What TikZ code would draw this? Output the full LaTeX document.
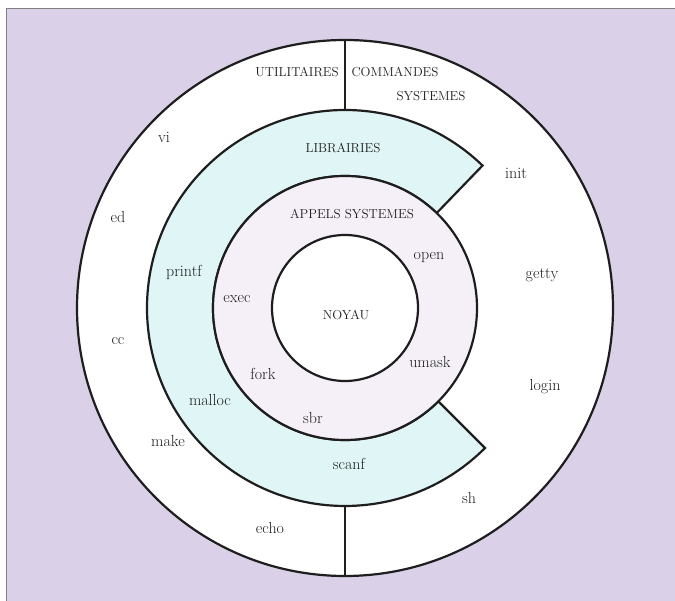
\documentclass[tikz,border=0pt]{standalone}
\usepackage{tikz}
\usetikzlibrary{positioning,calc}
\definecolor{fondlav}{RGB}{218,208,232}
\definecolor{libcyan}{RGB}{224,246,246}
\definecolor{appelslav}{RGB}{245,240,248}
\definecolor{encre}{RGB}{30,30,30}

\begin{document}
\begin{tikzpicture}[x=1pt,y=1pt,
    ring/.style={draw=encre,line width=2.2pt},
    titre/.style={text=encre,font=\fontsize{13}{15}\selectfont,inner sep=1pt},
    cmd/.style={text=encre,font=\fontsize{16}{18}\selectfont,inner sep=1pt}]
  \useasboundingbox (-345,-293) rectangle (330,308);
  \filldraw[fill=fondlav,draw=gray,line width=1pt] (-338,299) rectangle (340,-300); % 枠
  \filldraw[ring,fill=white] (0,0) circle[radius=268]; % 外側の円
  \draw[encre,line width=1.8pt] (0,268) -- (0,198); % 上の区切り
  \draw[encre,line width=1.8pt] (0,-198) -- (0,-268); % 下の区切り
  \filldraw[ring,fill=libcyan,line join=miter]
    (46:198) arc[start angle=46,end angle=315,radius=198]
    -- (315:132) arc[start angle=315,end angle=46,radius=132] -- cycle; % ライブラリの帯
  \filldraw[ring,fill=appelslav] (0,0) circle[radius=132]; % システムコールの円
  \filldraw[ring,fill=white] (0,0) circle[radius=73]; % カーネル

  \node[titre] (util) at (-48,236) {UTILITAIRES};
  \node[titre] (cmds) at (50,236) {COMMANDES};
  \node[titre] (syst) at (86,212) {SYSTEMES};
  \node[titre] (libs) at (-2,160) {LIBRAIRIES};
  \node[titre] (appels) at (7,94) {APPELS SYSTEMES};
  \node[titre] (noyau) at (1,-7) {NOYAU};

  \node[cmd] (vi) at (-181,171) {vi};
  \node[cmd] (ed) at (-227,91) {ed};
  \node[cmd] (cc) at (-227,-33) {cc};
  \node[cmd] (make) at (-177,-133) {make};
  \node[cmd] (echo) at (-75,-220) {echo};
  \node[cmd] (init) at (171,135) {init};
  \node[cmd] (getty) at (197,33) {getty};
  \node[cmd] (login) at (200,-79) {login};
  \node[cmd] (sh) at (124,-190) {sh};
  \node[cmd] (printf) at (-161,36) {printf};
  \node[cmd] (malloc) at (-135,-92) {malloc};
  \node[cmd] (scanf) at (4,-156) {scanf};
  \node[cmd] (open) at (84,50) {open};
  \node[cmd] (exec) at (-108,9) {exec};
  \node[cmd] (umask) at (85,-54) {umask};
  \node[cmd] (fork) at (-82,-66) {fork};
  \node[cmd] (sbr) at (-32,-110) {sbr};
\end{tikzpicture}
\end{document}
